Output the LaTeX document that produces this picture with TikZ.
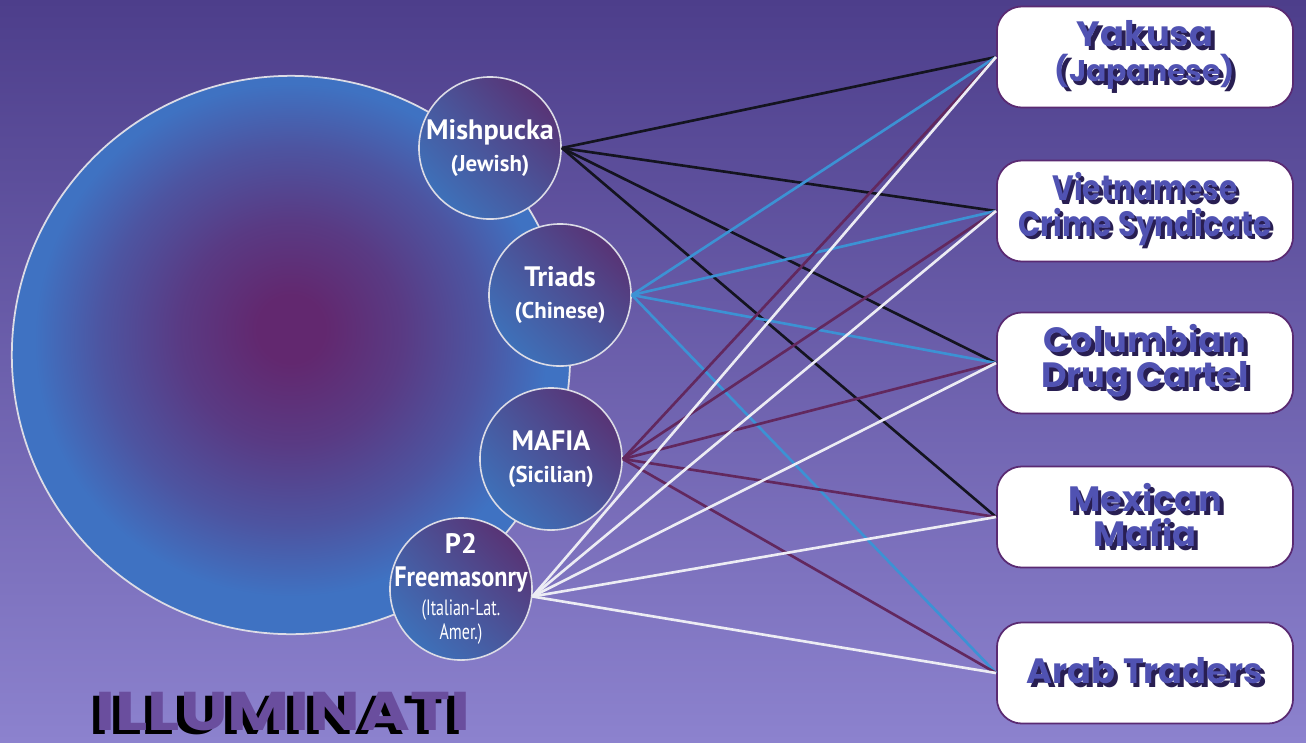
\documentclass[tikz,border=0pt]{standalone}
\usepackage{fontspec}
\setmainfont{PT Sans}
\newfontfamily\gangfont{Poppins}
\usetikzlibrary{positioning,shadings}

\definecolor{bgtop}{HTML}{4D3E8B}
\definecolor{bgbot}{HTML}{8C82CE}
\definecolor{glowin}{HTML}{62286F}
\definecolor{glowout}{HTML}{3F72C2}
\definecolor{orbblue}{HTML}{397CC6}
\definecolor{orbplum}{HTML}{5E2666}
\definecolor{rimwhite}{HTML}{DCDCE6}
\definecolor{linkblack}{HTML}{141420}
\definecolor{linkblue}{HTML}{3C92D4}
\definecolor{linkplum}{HTML}{62285E}
\definecolor{linkwhite}{HTML}{ECECF4}
\definecolor{boxedge}{HTML}{5A2A72}
\definecolor{boxink}{HTML}{5052B2}
\definecolor{boxshade}{HTML}{281E52}
\definecolor{titleink}{HTML}{6A4E9E}

\pgfdeclareradialshading{bigglow}{\pgfpoint{0bp}{2.5bp}}{color(0bp)=(glowin); color(3bp)=(glowin); color(10bp)=(glowin!75!glowout); color(17bp)=(glowin!40!glowout); color(23bp)=(glowout); color(50bp)=(glowout)}

% dark copy of a line, set behind it
\newcommand{\gangshadow}[1]{\makebox[0pt][l]{\textcolor{boxshade}{\kern1.1pt\raisebox{-1.1pt}{#1}}}#1}
\newcommand{\titleshadow}[1]{\makebox[0pt][l]{\textcolor{black}{\kern-1.5pt\raisebox{-1.2pt}{#1}}}#1}
\newcommand{\squeeze}[2]{\scalebox{#1}[1]{#2}}

\begin{document}
\begin{tikzpicture}[x=0.01cm,y=-0.01cm,
orb/.style={circle,draw=rimwhite,line width=0.45pt,minimum size=1.42cm,inner sep=-0.2cm,align=center,text=white,
  font=\fontsize{8}{9}\selectfont\bfseries,
  upper left=orbplum!45!orbblue,upper right=orbplum,lower left=orbblue,lower right=orbblue!55!orbplum},
gang/.style={draw=boxedge,line width=0.5pt,fill=white,rounded corners=0.25cm,minimum width=2.96cm,minimum height=1.01cm,
  align=center,text=boxink,font=\gangfont\bfseries\fontsize{10}{10}\selectfont},
link/.style={line width=0.75pt}
]
\fill[top color=bgtop,bottom color=bgbot] (0,0) rectangle (1306,742);
\useasboundingbox (0,0) rectangle (1306,742);

% the big ring and the four orbs on its rim
\node[circle,draw=rimwhite,line width=0.5pt,minimum size=5.58cm,inner sep=0pt,shading=bigglow] (ring) at (291,355) {};
\node[orb] (mish) at (490,148) {Mishpucka\\{\fontsize{6.5}{9.5}\selectfont (Jewish)}};
\node[orb] (triad) at (560,295) {Triads\\{\fontsize{6.5}{9.5}\selectfont (Chinese)}};
\node[orb] (mafia) at (551,459) {MAFIA\\{\fontsize{6.5}{9.5}\selectfont (Sicilian)}};
\node[orb] (ptwo) at (461,589) {P2\\[0.5pt]\squeeze{0.86}{Freemasonry}\\[-1pt]{\fontsize{6.3}{6}\selectfont\mdseries\squeeze{0.72}{(Italian-Lat.}}\\[-2pt]{\fontsize{6.3}{6}\selectfont\mdseries\squeeze{0.72}{Amer.)}}};

\node[anchor=base,inner sep=0pt,text=titleink,font=\gangfont\bfseries\fontsize{15.5}{15.5}\selectfont] (title) at (283,730) {\squeeze{1.24}{\titleshadow{ILLUMINATI}}};

% crime groups
\node[gang] (yakusa) at (1145,57) {\gangshadow{Yakusa}\\{\fontsize{8.5}{11}\selectfont\gangshadow{(Japanese)}}};
\node[gang] (vietnam) at (1145,211) {\squeeze{0.84}{\gangshadow{Vietnamese}}\\\squeeze{0.84}{\gangshadow{Crime Syndicate}}};
\node[gang] (colombia) at (1145,363) {\gangshadow{Columbian}\\\gangshadow{Drug Cartel}};
\node[gang] (mexico) at (1145,517) {\gangshadow{Mexican}\\\gangshadow{Mafia}};
\node[gang] (arab) at (1145,673) {\gangshadow{Arab Traders}};

% links
\foreach \g in {yakusa,vietnam,colombia,mexico}
  \draw[link,linkblack] (mish.east) -- (\g.west);
\foreach \g in {yakusa,vietnam,colombia,arab}
  \draw[link,linkblue] (triad.east) -- (\g.west);
\foreach \g in {yakusa,vietnam,colombia,mexico,arab}
  \draw[link,linkplum] (mafia.east) -- (\g.west);
\foreach \g in {yakusa,vietnam,colombia,mexico,arab}
  \draw[link,linkwhite] (ptwo.-6) -- (\g.west);
\end{tikzpicture}
\end{document}
